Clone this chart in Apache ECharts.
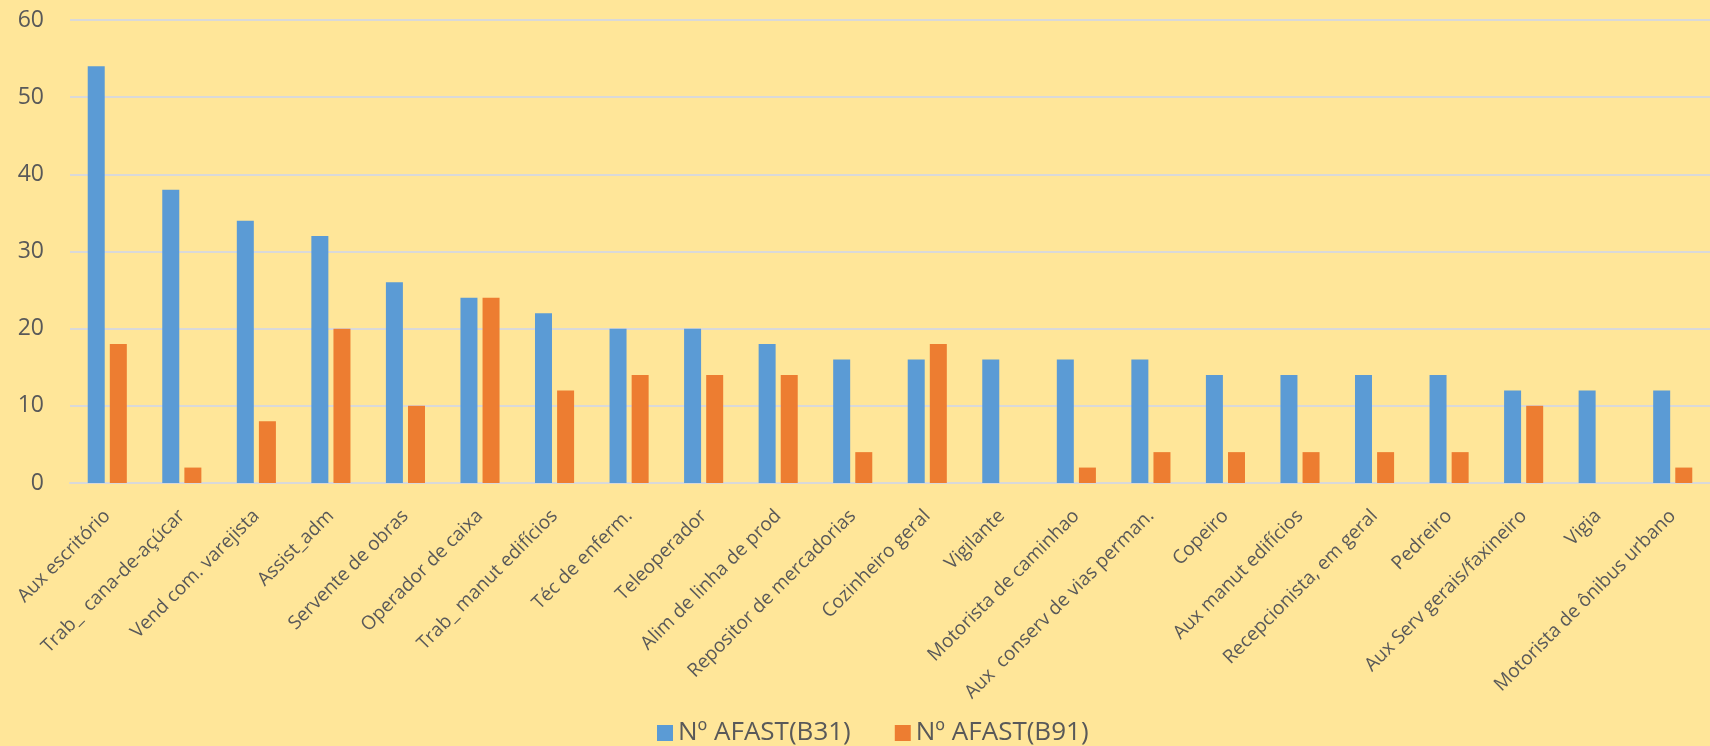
<!DOCTYPE html>
<html>
<head>
<meta charset="utf-8">
<script src="https://cdn.jsdelivr.net/npm/echarts@6/dist/echarts.min.js"></script>
<style>
html,body{margin:0;padding:0;background:#FFE699;}
#chart{width:1710px;height:746px;}
</style>
</head>
<body>
<div id="chart"></div>
<script>
const categories = ["Aux escritório","Trab_  cana-de-açúcar","Vend com. varejista","Assist_adm","Servente de obras","Operador de caixa","Trab_ manut edifícios","Téc de enferm.","Teleoperador","Alim de linha de prod","Repositor de mercadorias","Cozinheiro geral","Vigilante","Motorista de caminhao","Aux  conserv de vias perman.","Copeiro","Aux manut edifícios","Recepcionista, em geral","Pedreiro","Aux Serv gerais/faxineiro","Vigia","Motorista de ônibus urbano"];
const seriesB31 = [54,38,34,32,26,24,22,20,20,18,16,16,16,16,16,14,14,14,14,12,12,12];
const seriesB91 = [18,2,8,20,10,24,12,14,14,14,4,18,0,2,4,4,4,4,4,10,0,2];
const seriesNames = ["Nº AFAST(B31)","Nº AFAST(B91)"];
const yTicks = {min:0, max:60, interval:10};

const font = "'Open Sans', 'Noto Sans', sans-serif";
const chart = echarts.init(document.getElementById('chart'), null, {renderer:'canvas'});
chart.setOption({
  backgroundColor:'#FFE699',
  animation:false,
  grid:{left:70, right:0, top:20, bottom:263, containLabel:false},
  legend:{
    data:seriesNames, left:652, top:715, itemWidth:16, itemHeight:16, itemGap:44,
    icon:'rect',
    textStyle:{color:'#595959', fontSize:26, fontFamily:font}
  },
  xAxis:{
    type:'category', data:categories,
    axisLine:{show:true, lineStyle:{color:'#D9D9D9', width:2}},
    axisTick:{show:false},
    axisLabel:{rotate:45, interval:0, color:'#595959', fontSize:19, fontFamily:font, margin:30}
  },
  yAxis:{
    type:'value', min:yTicks.min, max:yTicks.max, interval:yTicks.interval,
    axisLine:{show:false}, axisTick:{show:false},
    splitLine:{lineStyle:{color:'#D9D9D9', width:2}},
    axisLabel:{color:'#595959', fontSize:23, fontFamily:font, margin:26}
  },
  series:[
    {name:seriesNames[0], type:'bar', data:seriesB31, barWidth:17, barGap:'30%',
     itemStyle:{color:'#5B9BD5'}},
    {name:seriesNames[1], type:'bar', data:seriesB91, barWidth:17, barGap:'30%',
     itemStyle:{color:'#ED7D31'}}
  ]
});
</script>
</body>
</html>
